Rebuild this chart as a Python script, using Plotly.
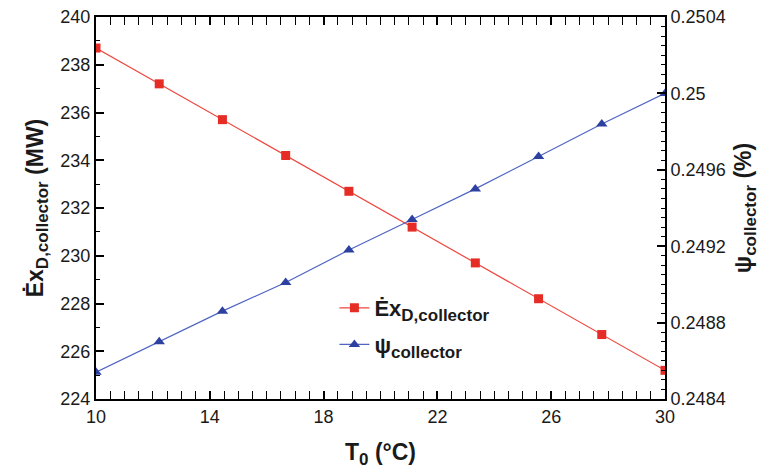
import plotly.graph_objects as go

# Data
t0 = [10, 12.222, 14.444, 16.667, 18.889, 21.111, 23.333, 25.556, 27.778, 30]
ex_d = [238.7, 237.2, 235.7, 234.2, 232.7, 231.2, 229.7, 228.2, 226.7, 225.2]
psi = [0.24854, 0.24870, 0.24886, 0.24901, 0.24918, 0.24934, 0.24950, 0.24967, 0.24984, 0.25000]

x_ticks = [10, 14, 18, 22, 26, 30]
y_ticks = [224, 226, 228, 230, 232, 234, 236, 238, 240]
y2_ticks = [0.2484, 0.2488, 0.2492, 0.2496, 0.25, 0.2504]
y2_labels = ["0.2484", "0.2488", "0.2492", "0.2496", "0.25", "0.2504"]

FONT = "Liberation Sans, Arial, Helvetica, sans-serif"
RED = "rgb(229,45,38)"
BLUE = "rgb(45,65,160)"
TXT = "#1a1a1a"


def sub(s, size=17):
    return f"<sub><span style='font-size:{size}px'>{s}</span></sub>"


fig = go.Figure()
fig.add_trace(go.Scatter(
    x=t0, y=ex_d, mode="lines+markers",
    name="<b>Ėx" + sub("D,collector") + "</b>",
    legendgroup="a",
    line=dict(color="rgb(238,70,60)", width=1.2),
    marker=dict(symbol="square", size=9, color=RED),
    yaxis="y",
))
fig.add_trace(go.Scatter(
    x=t0, y=psi, mode="lines+markers",
    name="<b>ψ" + sub("collector") + "</b>",
    legendgroup="b",
    line=dict(color="rgb(80,100,195)", width=1.2),
    marker=dict(symbol="triangle-up", size=10, color=BLUE),
    yaxis="y2",
))

axis_common = dict(
    showline=True, linecolor="black", linewidth=2,
    ticks="inside", tickcolor="black", tickwidth=1.5, ticklen=8,
    showgrid=False, zeroline=False, automargin=False,
    tickfont=dict(family=FONT, size=18, color=TXT),
)
title_font = dict(family=FONT, size=23, color=TXT)

fig.update_layout(
    width=772, height=469,
    margin=dict(l=96, r=107, t=17, b=70),
    plot_bgcolor="white", paper_bgcolor="white",
    font=dict(family=FONT, color=TXT),
    showlegend=True,
    legend=dict(
        x=0.419, y=0.293, xanchor="left", yanchor="top",
        bgcolor="rgba(0,0,0,0)",
        font=dict(family=FONT, size=22, color=TXT),
        tracegroupgap=5,
    ),
    xaxis=dict(
        **axis_common, range=[10, 30], tickvals=x_ticks, mirror="allticks",
        minor=dict(ticks="inside", dtick=0.5, ticklen=4, tickcolor="black", tickwidth=1),
        title=dict(text="<b>T" + sub("0") + " (°C)</b>", font=title_font, standoff=21),
    ),
    yaxis=dict(
        **axis_common, range=[224, 240], tickvals=y_ticks,
        minor=dict(ticks="inside", dtick=1, ticklen=4, tickcolor="black", tickwidth=1),
        title=dict(text="<b>Ėx" + sub("D,collector") + " (MW)</b>", font=title_font, standoff=10),
    ),
    yaxis2=dict(
        **axis_common, range=[0.2484, 0.2504], tickvals=y2_ticks, ticktext=y2_labels,
        overlaying="y", side="right",
        minor=dict(ticks="inside", dtick=0.00005, ticklen=4, tickcolor="black", tickwidth=1),
        title=dict(text="<b>ψ" + sub("collector") + " (%)</b>", font=title_font, standoff=10),
    ),
)

fig.write_html("out.html")
